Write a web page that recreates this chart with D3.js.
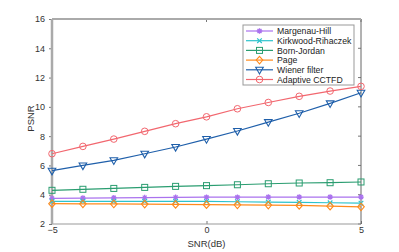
<!DOCTYPE html>
<html>
<head>
<meta charset="utf-8">
<script src="https://cdn.jsdelivr.net/npm/d3@7"></script>
<style>
  body { margin: 0; background: #fff; }
  text { font-family: "Liberation Sans", Arial, sans-serif; }
</style>
</head>
<body>
<div id="canvas"></div>
<script>
// x values (SNR in dB)
const snr = [-5, -4, -3, -2, -1, 0, 1, 2, 3, 4, 5];

// PSNR per method
const margenauHill = [3.75, 3.77, 3.79, 3.8, 3.82, 3.83, 3.83, 3.84, 3.84, 3.84, 3.84];
const kirkwood = [3.55, 3.55, 3.55, 3.55, 3.55, 3.54, 3.52, 3.5, 3.48, 3.45, 3.42];
const bornJordan = [4.3, 4.37, 4.43, 4.5, 4.57, 4.62, 4.68, 4.75, 4.8, 4.82, 4.87];
const page = [3.39, 3.38, 3.37, 3.36, 3.34, 3.32, 3.31, 3.29, 3.27, 3.22, 3.17];
const wiener = [5.64, 6.0, 6.35, 6.8, 7.26, 7.8, 8.35, 8.96, 9.56, 10.24, 10.96];
const adaptive = [6.8, 7.3, 7.8, 8.33, 8.85, 9.32, 9.87, 10.3, 10.72, 11.08, 11.4];

const seriesNames = ["Margenau-Hill", "Kirkwood-Rihaczek", "Born-Jordan", "Page", "Wiener filter", "Adaptive CCTFD"];
const seriesValues = [margenauHill, kirkwood, bornJordan, page, wiener, adaptive];
const seriesColors = ["#aa72ee", "#2cc3cc", "#2a9d70", "#ff8a1c", "#1f5faa", "#f2676f"];
const seriesMarkers = ["star", "cross", "square", "diamond", "triangle", "circle"];

const xTicks = [-5, 0, 5];
const yTicks = [2, 4, 6, 8, 10, 12, 14, 16];

const W = 399, H = 252;
const margin = {top: 19, right: 38, bottom: 28, left: 52};
const width = W - margin.left - margin.right,
      height = H - margin.top - margin.bottom;

const svg = d3.select("#canvas")
    .append("svg")
    .attr("width", W)
    .attr("height", H);

const g = svg.append("g")
    .attr("transform", "translate(" + margin.left + "," + margin.top + ")");

const x = d3.scaleLinear().domain([-5, 5]).range([0, width]);
const y = d3.scaleLinear().domain([2, 16]).range([height, 0]);

// axes
const xAxis = g.append("g")
    .attr("transform", "translate(0," + height + ")")
    .call(d3.axisBottom(x).tickValues(xTicks).tickSize(-3).tickPadding(3).tickFormat(d3.format("d")));
const yAxis = g.append("g")
    .call(d3.axisLeft(y).tickValues(yTicks).tickSize(3).tickPadding(4));
[xAxis, yAxis].forEach(a => {
    a.select(".domain").remove();
    a.selectAll(".tick line").attr("stroke", "#777");
    a.selectAll(".tick text").attr("fill", "#333").style("font-size", "9px");
});
// top / right ticks
g.append("g").selectAll("line").data(xTicks).enter().append("line")
    .attr("x1", d => x(d)).attr("x2", d => x(d))
    .attr("y1", 0).attr("y2", 3).attr("stroke", "#777");
g.append("g").selectAll("line").data(yTicks).enter().append("line")
    .attr("x1", width).attr("x2", width - 3)
    .attr("y1", d => y(d)).attr("y2", d => y(d)).attr("stroke", "#777");

// box
g.append("line").attr("x1", 0).attr("x2", width).attr("y1", height).attr("y2", height)
    .attr("stroke", "#999").attr("stroke-width", 1);
g.append("line").attr("x1", width).attr("x2", width).attr("y1", 0).attr("y2", height)
    .attr("stroke", "#666").attr("stroke-width", 1);
g.append("line").attr("x1", 0).attr("x2", width).attr("y1", 0).attr("y2", 0)
    .attr("stroke", "#aaa").attr("stroke-width", 2);
g.append("line").attr("x1", 0).attr("x2", 0).attr("y1", 0).attr("y2", height)
    .attr("stroke", "#aaa").attr("stroke-width", 2.5);

// axis labels
g.append("text")
    .attr("text-anchor", "middle")
    .attr("x", width / 2)
    .attr("y", height + 23)
    .attr("fill", "#333")
    .style("font-size", "9.5px")
    .text("SNR(dB)");
g.append("text")
    .attr("text-anchor", "middle")
    .attr("transform", "rotate(-90)")
    .attr("x", -(height / 2) + 3)
    .attr("y", -18)
    .attr("fill", "#333")
    .style("font-size", "9.5px")
    .text("PSNR");

function drawMarker(sel, type, color) {
    const s = 3.3;
    if (type === "circle") {
        sel.append("circle").attr("r", s).attr("fill", "none").attr("stroke", color).attr("stroke-width", 1);
    } else if (type === "square") {
        sel.append("rect").attr("x", -s + 0.3).attr("y", -s + 0.3).attr("width", 2 * s - 0.6).attr("height", 2 * s - 0.6)
            .attr("fill", "none").attr("stroke", color).attr("stroke-width", 1);
    } else if (type === "diamond") {
        sel.append("path").attr("d", `M0,${-s - 0.5}L${s},0L0,${s + 0.5}L${-s},0Z`)
            .attr("fill", "none").attr("stroke", color).attr("stroke-width", 1.1);
    } else if (type === "triangle") {
        sel.append("path").attr("d", `M${-s - 0.5},${-s + 0.8}L${s + 0.5},${-s + 0.8}L0,${s + 0.8}Z`)
            .attr("fill", "none").attr("stroke", color).attr("stroke-width", 1.1);
    } else if (type === "cross") {
        sel.append("path").attr("d", `M-2.3,-2.3L2.3,2.3M-2.3,2.3L2.3,-2.3`)
            .attr("stroke", color).attr("stroke-width", 1.2);
    } else if (type === "star") {
        sel.append("path").attr("d", `M-2.8,0L2.8,0M0,-2.8L0,2.8M-2,-2L2,2M-2,2L2,-2`)
            .attr("stroke", color).attr("stroke-width", 1.3);
    }
}

const line = d3.line().x((d, i) => x(snr[i])).y(d => y(d));

seriesValues.forEach((vals, k) => {
    const color = seriesColors[k];
    g.append("path")
        .datum(vals)
        .attr("fill", "none")
        .attr("stroke", color)
        .attr("stroke-width", 1.2)
        .attr("d", line);
    g.append("g").selectAll("g")
        .data(vals)
        .enter()
        .append("g")
        .attr("transform", (d, i) => "translate(" + x(snr[i]) + "," + y(d) + ")")
        .each(function() { drawMarker(d3.select(this), seriesMarkers[k], color); });
});

// legend
const legend = svg.append("g").attr("transform", "translate(243,25)");
legend.append("rect")
    .attr("width", 111).attr("height", 60)
    .attr("fill", "#fff").attr("stroke", "#999").attr("stroke-width", 1);
seriesNames.forEach((name, k) => {
    const yy = 6 + k * 9.7;
    const color = seriesColors[k];
    legend.append("line").attr("x1", 3).attr("x2", 30).attr("y1", yy).attr("y2", yy)
        .attr("stroke", color).attr("stroke-width", 1.2);
    const m = legend.append("g").attr("transform", "translate(16.5," + yy + ")");
    drawMarker(m, seriesMarkers[k], color);
    legend.append("text")
        .attr("x", 34).attr("y", yy + 3.2)
        .attr("fill", "#222")
        .style("font-size", "8.7px")
        .text(name);
});
</script>
</body>
</html>
